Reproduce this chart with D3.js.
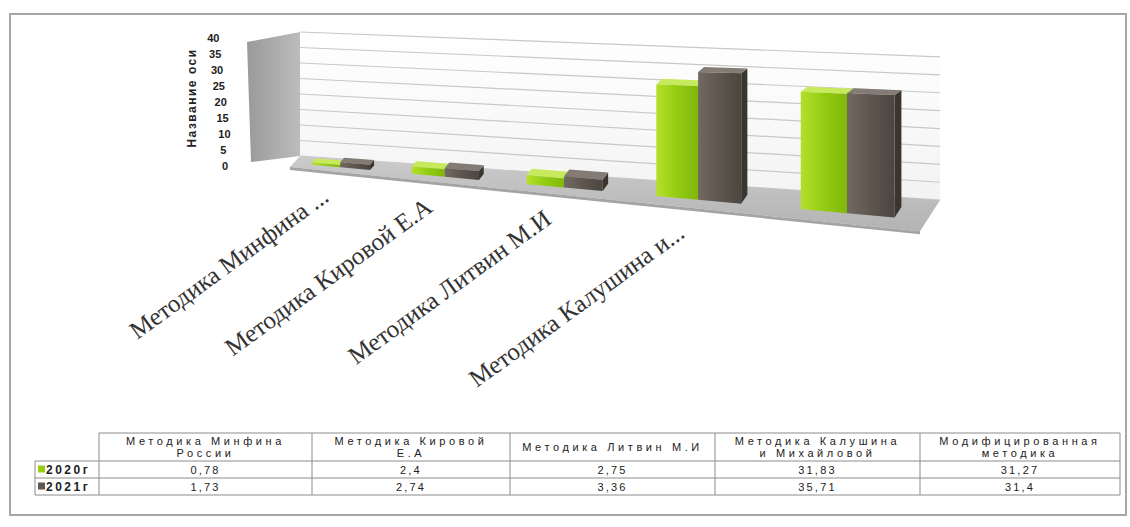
<!DOCTYPE html>
<html><head><meta charset="utf-8">
<script src="https://cdn.jsdelivr.net/npm/d3@7"></script>
<style>body{margin:0;background:#fff;}svg{display:block;}</style>
</head><body>
<svg id="c" width="1130" height="527"></svg>
<script>
const categories = ["Методика Минфина России","Методика Кировой Е.А","Методика Литвин М.И","Методика Калушина и Михайловой","Модифицированная методика"];
const axisLabels = ["Методика Минфина ...","Методика Кировой Е.А","Методика Литвин М.И","Методика Калушина и...",""];
const series = ["2020г","2021г"];
const values2020 = [0.78, 2.4, 2.75, 31.83, 31.27];
const values2021 = [1.73, 2.74, 3.36, 35.71, 31.4];
const valueText2020 = ["0,78","2,4","2,75","31,83","31,27"];
const valueText2021 = ["1,73","2,74","3,36","35,71","31,4"];
const yTicks = [0,5,10,15,20,25,30,35,40];
const axisTitle = "Название оси";

const svg = d3.select("#c");
const defs = svg.append("defs");
function grad(id, stops, x2=1, y2=0){
  const g = defs.append("linearGradient").attr("id",id).attr("x1",0).attr("y1",0).attr("x2",x2).attr("y2",y2);
  stops.forEach(s=>g.append("stop").attr("offset",s[0]).attr("stop-color",s[1]));
}
grad("gFront",[[0,"#b4e02a"],[0.5,"#93cc12"],[1,"#80b70a"]]);
grad("bFront",[[0,"#726a62"],[0.5,"#5d554e"],[1,"#4c4540"]]);
grad("wallG",[[0,"#ffffff"],[1,"#f3f3f3"]],0,1);
grad("sideG",[[0,"#9a9a9a"],[1,"#bcbcbc"]],1,0);
grad("floorG",[[0,"#cbcbcb"],[1,"#b3b3b3"]],0,1);

// outer border
svg.append("rect").attr("x",10).attr("y",14).attr("width",1116).attr("height",501)
  .attr("fill","#fff").attr("stroke","#a6a6a6").attr("stroke-width",2);

// scales
const uScale = d3.scaleBand().domain(categories).range([0,1]).paddingInner(0.4).paddingOuter(0.2);
const sScale = d3.scaleBand().domain(series).range([0,uScale.bandwidth()]);
const vScale = d3.scaleLinear().domain([0,40]).range([0,40]);

// pseudo-3D projection: u along category axis, d depth (0 back wall, 1 floor front), v value
function P(u,d,v){
  const xL = 300 - 10*d;
  const x = xL + (455 - 10*d)*u + 185*u*u;
  const base = 156 + 11*d + (0.069 + 0.033*d)*(x - xL);
  const unit = (3.1 - 0.3*d) + (0.00075 + 0.0014*d)*(x - xL);
  return [x, base - vScale(v)*unit];
}
const poly = pts => "M" + pts.map(p=>p.join(",")).join("L") + "Z";

// side wall
svg.append("path").attr("d", poly([[247,42],[300,32],[300,156],[251,162]])).attr("fill","url(#sideG)");
// back wall
svg.append("path").attr("d", poly([P(0,0,0),P(1,0,0),P(1,0,40),P(0,0,40)])).attr("fill","url(#wallG)");
// gridlines
const line = d3.line();
yTicks.forEach(t=>{
  svg.append("path").attr("d", line([P(0,0,t),P(1,0,t)])).attr("fill","none")
    .attr("stroke","#c8c8c8").attr("stroke-width",1.2);
});
// floor
svg.append("path").attr("d", poly([P(0,0,0),P(1,0,0),P(1,1,0),P(0,1,0)])).attr("fill","url(#floorG)");
const fr = P(1,1,0), fl = P(0,1,0);
svg.append("path").attr("d", poly([fl,fr,[fr[0],fr[1]+3],[fl[0],fl[1]+3]])).attr("fill","#a4a4a4");

// bars
const df = 0.65, db = 0.3;
const colors = {
  "2020г": {front:"url(#gFront)", top:"#c6ea5c", side:"#6a980a"},
  "2021г": {front:"url(#bFront)", top:"#847c74", side:"#3b3530"}
};
const allVals = {"2020г": values2020, "2021г": values2021};
categories.forEach((c,i)=>{
  series.forEach(s=>{
    const v = allVals[s][i];
    const u0 = uScale(c) + sScale(s), u1 = u0 + sScale.bandwidth();
    const col = colors[s];
    svg.append("path").attr("d", poly([P(u1,df,0),P(u1,db,0),P(u1,db,v),P(u1,df,v)])).attr("fill",col.side);
    svg.append("path").attr("d", poly([P(u0,df,v),P(u1,df,v),P(u1,db,v),P(u0,db,v)])).attr("fill",col.top);
    svg.append("path").attr("d", poly([P(u0,df,0),P(u1,df,0),P(u1,df,v),P(u0,df,v)])).attr("fill",col.front);
  });
});

// y tick labels
yTicks.forEach(t=>{
  svg.append("text").attr("x", 222 - t*0.37).attr("y", 166 - t*3.2 + 4)
    .attr("font-family","Liberation Sans, Arial, sans-serif").attr("font-size",11).attr("font-weight","bold")
    .attr("fill","#222").attr("text-anchor","start").text(t);
});
// axis title
svg.append("text").attr("transform","translate(196,98) rotate(-90)")
  .attr("font-family","Liberation Sans, Arial, sans-serif").attr("font-size",12).attr("font-weight","bold")
  .attr("letter-spacing",1.5)
  .attr("fill","#222").attr("text-anchor","middle").text(axisTitle);

// category labels
categories.forEach((c,i)=>{
  if(!axisLabels[i]) return;
  const uc = uScale(c) + uScale.bandwidth()/2;
  const p = P(uc,1,0);
  svg.append("text").attr("transform",`translate(${p[0]-6},${p[1]+28}) rotate(-36)`)
    .attr("font-family","Liberation Serif, Times New Roman, serif").attr("font-size",25)
    .attr("fill","#333").attr("text-anchor","end").text(axisLabels[i]);
});

// data table
const colX = [99,312,510,715,920,1120];
const rowY = [433,461,478,495];
const legX = 35;
const tg = svg.append("g").attr("font-family","Liberation Sans, Arial, sans-serif").attr("font-size",11)
  .attr("letter-spacing",2.2).attr("fill","#222");
const stroke = "#8c8c8c";
tg.append("line").attr("x1",colX[0]).attr("x2",colX[5]).attr("y1",rowY[0]).attr("y2",rowY[0]).attr("stroke",stroke);
[1,2,3].forEach(r=>tg.append("line").attr("x1",legX).attr("x2",colX[5]).attr("y1",rowY[r]).attr("y2",rowY[r]).attr("stroke",stroke));
colX.forEach(x=>tg.append("line").attr("x1",x).attr("x2",x).attr("y1",rowY[0]).attr("y2",rowY[3]).attr("stroke",stroke));
tg.append("line").attr("x1",legX).attr("x2",legX).attr("y1",rowY[1]).attr("y2",rowY[3]).attr("stroke",stroke);
function wrapHeader(name){
  if (name === categories[2]) return [name];
  const words = name.split(" ");
  if (words.length === 2) return [words[0], words[1]];
  return [words.slice(0,2).join(" "), words.slice(2).join(" ")];
}
categories.forEach((c,i)=>{
  const cx = (colX[i]+colX[i+1])/2;
  const lines = wrapHeader(c);
  lines.forEach((l,k)=>{
    tg.append("text").attr("x",cx).attr("y", (rowY[0]+rowY[1])/2 + 4 + (k - (lines.length-1)/2)*12)
      .attr("text-anchor","middle").attr("letter-spacing",3.6).text(l);
  });
  tg.append("text").attr("x",cx).attr("y",(rowY[1]+rowY[2])/2+4).attr("text-anchor","middle").text(valueText2020[i]);
  tg.append("text").attr("x",cx).attr("y",(rowY[2]+rowY[3])/2+4).attr("text-anchor","middle").text(valueText2021[i]);
});
const keyCols = ["#9bcc14","#5f5750"];
series.forEach((s,k)=>{
  const yc = (rowY[k+1]+rowY[k+2])/2;
  tg.append("rect").attr("x",legX+3).attr("y",yc-4).attr("width",7).attr("height",7).attr("fill",keyCols[k]);
  tg.append("text").attr("x",legX+11).attr("y",yc+4).attr("font-size",12).attr("font-weight","bold")
    .attr("letter-spacing",2.5).text(s);
});
</script>
</body></html>
